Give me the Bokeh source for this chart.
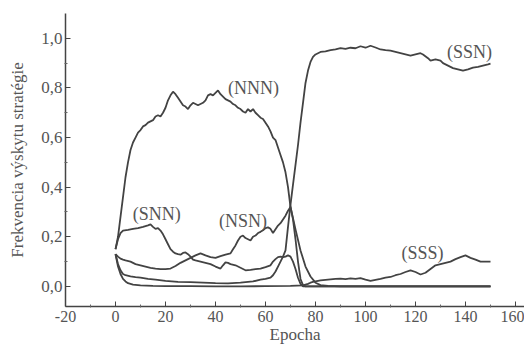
from bokeh.plotting import figure
from bokeh.models import Range1d, FixedTicker, CustomJSTickFormatter, ColumnDataSource
from bokeh.core.properties import value
from bokeh.embed import file_html
from bokeh.resources import INLINE

# ---- data ----
nnn_x = [0, 1, 2, 3, 4, 5, 6, 7, 8, 9, 10, 11, 12, 13, 14, 15, 16, 17, 18, 19, 20, 21, 22, 23, 24, 25,
         26, 27, 28, 29, 30, 31, 32, 33, 34, 35, 36, 37, 38, 39, 40, 41, 42, 43, 44, 45, 46, 47, 48, 49,
         50, 51, 52, 53, 54, 55, 56, 57, 58, 59, 60, 61, 62, 63, 64, 65, 66, 67, 68, 69, 70, 72, 74, 76,
         78, 80, 82, 85, 90, 100, 110, 120, 130, 140, 150]
nnn_y = [0.15, 0.2, 0.28, 0.36, 0.44, 0.5, 0.55, 0.58, 0.6, 0.62, 0.63, 0.645, 0.65, 0.66, 0.665, 0.67,
         0.685, 0.69, 0.685, 0.70, 0.72, 0.75, 0.77, 0.785, 0.775, 0.76, 0.745, 0.73, 0.725, 0.715, 0.73,
         0.74, 0.735, 0.73, 0.735, 0.74, 0.75, 0.77, 0.775, 0.77, 0.78, 0.79, 0.775, 0.765, 0.755, 0.75,
         0.745, 0.735, 0.73, 0.72, 0.715, 0.705, 0.70, 0.715, 0.705, 0.715, 0.70, 0.69, 0.68, 0.675, 0.66,
         0.645, 0.625, 0.60, 0.59, 0.56, 0.53, 0.50, 0.46, 0.40, 0.32, 0.23, 0.145, 0.08, 0.04, 0.015,
         0.005, 0.002, 0.0, 0.0, 0.0, 0.0, 0.0, 0.0, 0.0]

ssn_x = [0, 1, 2, 3, 4, 6, 8, 10, 13, 16, 20, 25, 30, 35, 40, 45, 50, 55, 58, 60, 62, 63, 64, 65, 66, 67,
         68, 69, 70, 71, 72, 73, 74, 75, 76, 77, 78, 79, 80, 82, 84, 86, 88, 90, 92, 94, 96, 98, 100, 102,
         104, 106, 108, 110, 112, 114, 116, 118, 120, 122, 123, 125, 126, 128, 130, 131, 133, 135, 137,
         139, 141, 143, 145, 147, 149, 150]
ssn_y = [0.13, 0.09, 0.065, 0.05, 0.045, 0.04, 0.037, 0.035, 0.03, 0.027, 0.022, 0.018, 0.017, 0.015,
         0.013, 0.012, 0.015, 0.02, 0.027, 0.03, 0.035, 0.045, 0.06, 0.08, 0.1, 0.12, 0.145, 0.24, 0.33,
         0.41, 0.49, 0.57, 0.66, 0.74, 0.82, 0.87, 0.905, 0.925, 0.935, 0.945, 0.947, 0.952, 0.955, 0.96,
         0.957, 0.962, 0.96, 0.968, 0.962, 0.97, 0.963, 0.955, 0.952, 0.95, 0.945, 0.94, 0.935, 0.93,
         0.935, 0.94, 0.935, 0.92, 0.91, 0.915, 0.91, 0.9, 0.89, 0.88, 0.875, 0.87, 0.875, 0.882, 0.885,
         0.89, 0.895, 0.898]

snn_x = [0, 1, 2, 3, 5, 7, 9, 11, 13, 14, 15, 16, 17, 18, 19, 20, 21, 22, 23, 24, 25, 26, 27, 28, 29, 30,
         31, 32, 34, 36, 38, 40, 42, 43, 44, 45, 46, 48, 50, 52, 54, 56, 58, 60, 62, 63, 64, 65, 66, 67,
         68, 69, 70, 71, 72, 73, 74, 75, 90, 110, 130, 150]
snn_y = [0.15, 0.19, 0.215, 0.225, 0.228, 0.232, 0.235, 0.24, 0.246, 0.25, 0.24, 0.232, 0.235, 0.225,
         0.21, 0.19, 0.17, 0.15, 0.14, 0.133, 0.13, 0.128, 0.135, 0.137, 0.13, 0.12, 0.108, 0.105, 0.1,
         0.095, 0.09, 0.08, 0.072, 0.085, 0.097, 0.095, 0.09, 0.085, 0.075, 0.065, 0.067, 0.07, 0.072,
         0.078, 0.085, 0.1, 0.11, 0.118, 0.12, 0.118, 0.12, 0.125, 0.12, 0.1, 0.07, 0.035, 0.01, 0.0,
         0.0, 0.0, 0.0, 0.0]

nsn_x = [0, 1, 2, 3, 4, 6, 8, 10, 12, 14, 16, 18, 20, 22, 24, 26, 28, 30, 32, 34, 36, 38, 40, 42, 44, 46,
         47, 48, 49, 50, 51, 52, 53, 54, 55, 56, 57, 58, 59, 60, 61, 62, 63, 64, 65, 66, 67, 68, 69, 70,
         71, 72, 73, 74, 75, 76, 90, 110, 130, 150]
nsn_y = [0.13, 0.12, 0.112, 0.108, 0.105, 0.1, 0.09, 0.085, 0.08, 0.075, 0.072, 0.07, 0.07, 0.072,
         0.082, 0.095, 0.105, 0.115, 0.125, 0.133, 0.125, 0.118, 0.115, 0.122, 0.128, 0.133, 0.15, 0.165,
         0.185, 0.2, 0.205, 0.195, 0.19, 0.185, 0.2, 0.205, 0.215, 0.22, 0.226, 0.235, 0.238, 0.232, 0.215,
         0.23, 0.245, 0.255, 0.27, 0.285, 0.305, 0.32, 0.27, 0.19, 0.1, 0.03, 0.005, 0.0, 0.0, 0.0, 0.0,
         0.0]

sss_x = [0, 1, 2, 3, 4, 5, 7, 10, 15, 20, 30, 40, 50, 60, 70, 75, 77, 78, 79, 80, 81, 82, 84, 86, 88, 90,
         92, 94, 96, 98, 100, 102, 104, 106, 108, 110, 112, 114, 116, 118, 120, 122, 124, 126, 128, 130,
         132, 134, 136, 138, 140, 142, 144, 146, 148, 150]
sss_y = [0.13, 0.08, 0.05, 0.03, 0.02, 0.013, 0.007, 0.004, 0.002, 0.001, 0.001, 0.0, 0.0, 0.001, 0.002,
         0.004, 0.01, 0.015, 0.018, 0.02, 0.022, 0.024, 0.026, 0.028, 0.03, 0.031, 0.029, 0.032, 0.03,
         0.033, 0.027, 0.022, 0.026, 0.03, 0.035, 0.038, 0.045, 0.05, 0.058, 0.065, 0.058, 0.048, 0.055,
         0.07, 0.085, 0.09, 0.095, 0.1, 0.11, 0.118, 0.125, 0.115, 0.108, 0.1, 0.1, 0.1]

label_texts = ["(NNN)", "(SSN)", "(SNN)", "(NSN)", "(SSS)"]
label_x = [55.2, 141.6, 16.5, 51.0, 122.8]
label_y = [0.80, 0.944, 0.29, 0.262, 0.133]

x_major = [-20, 0, 20, 40, 60, 80, 100, 120, 140, 160]
x_minor = [-10, 10, 30, 50, 70, 90, 110, 130, 150]
y_major = [0.0, 0.2, 0.4, 0.6, 0.8, 1.0]
y_minor = [0.1, 0.3, 0.5, 0.7, 0.9]

# ---- figure ----
FONT = "'Liberation Serif', 'Times New Roman', serif"
LINE = "#434343"
TXT = "#555555"

p = figure(width=524, height=346, output_backend="svg", toolbar_location=None,
           x_range=Range1d(-20, 163.6), y_range=Range1d(-0.081, 1.1),
           min_border_left=65, min_border_right=0, min_border_top=13, min_border_bottom=40)
p.outline_line_color = None
p.grid.visible = False
p.background_fill_color = "white"

for xs, ys in [(nnn_x, nnn_y), (ssn_x, ssn_y), (snn_x, snn_y), (nsn_x, nsn_y), (sss_x, sss_y)]:
    p.line(xs, ys, line_color=LINE, line_width=1.8)

src = ColumnDataSource(dict(x=label_x, y=label_y, t=label_texts))
p.text(x="x", y="y", text="t", source=src, text_font=value(FONT), text_font_size="18px",
       text_color=TXT, text_align="center", text_baseline="middle")

xa = p.xaxis[0]
xa.ticker = FixedTicker(ticks=x_major, minor_ticks=x_minor)
xa.formatter = CustomJSTickFormatter(code="return tick.toFixed(0);")
xa.axis_label = "Epocha"
ya = p.yaxis[0]
ya.ticker = FixedTicker(ticks=y_major, minor_ticks=y_minor)
ya.axis_label = "Frekvencia výskytu stratégie"
ya.formatter = CustomJSTickFormatter(code="return tick.toFixed(1).replace('.', ',');")

for ax in (xa, ya):
    ax.axis_line_color = "#444444"
    ax.axis_line_width = 1.5
    ax.major_tick_line_color = "#444444"
    ax.minor_tick_line_color = "#666666"
    ax.major_tick_in = 5
    ax.major_tick_out = 0
    ax.minor_tick_in = 2
    ax.minor_tick_out = 1
    ax.major_label_text_font = FONT
    ax.major_label_text_font_size = "17px"
    ax.major_label_text_color = TXT
    ax.axis_label_text_font = FONT
    ax.axis_label_text_font_style = "normal"
    ax.axis_label_text_color = TXT

xa.major_label_standoff = 3
xa.major_label_text_font_size = "16px"
xa.axis_label_standoff = 0
xa.axis_label_text_font_size = "17px"
ya.major_label_standoff = 2
ya.axis_label_standoff = 11
ya.axis_label_text_font_size = "17px"

open("out.html", "w").write(file_html(p, INLINE))
